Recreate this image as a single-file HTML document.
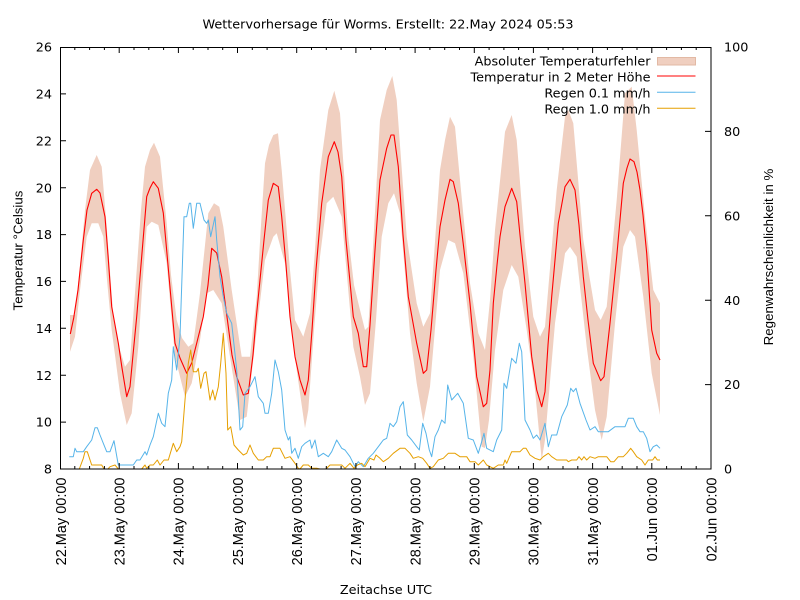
<!DOCTYPE html>
<html>
<head>
<meta charset="utf-8">
<style>
html,body{margin:0;padding:0;background:#fff;}
svg{display:block;}
.dv{font-family:"DejaVu Sans","Liberation Sans",sans-serif;font-size:12.8px;fill:#000;}
.lb{font-family:"Liberation Sans","DejaVu Sans",sans-serif;font-size:14.5px;fill:#000;}
.lt{font-family:"Liberation Sans","DejaVu Sans",sans-serif;font-size:13.3px;fill:#000;}
</style>
</head>
<body>
<svg width="800" height="600" viewBox="0 0 800 600" xmlns="http://www.w3.org/2000/svg">
<rect x="0" y="0" width="800" height="600" fill="#fff"/>
<defs>
<clipPath id="pc"><rect x="60" y="47" width="651" height="422"/></clipPath>
</defs>

<text class="dv" x="388" y="28.5" text-anchor="middle">Wettervorhersage für Worms. Erstellt: 22.May 2024 05:53</text>

<g clip-path="url(#pc)">
<polygon fill="#f0cfc0" stroke="none" points="70,315 75,315 80,265 85,210 90,170 96.7,155 101.7,166.7 106.7,226.7 113.3,316.7 120,350 125,366.7 130,360 136.7,270 141,210 145,166.7 150,150 154,142.7 160,156.7 166.7,223.3 171,275 176.7,320 182,338 188.3,346.7 193.3,343.3 200,293.3 208.3,213.3 214,203.3 219.3,206.7 223.3,226.7 231.7,290 241.7,356.7 250,356.7 256.7,296.7 261,225 265,163.3 269,145 273.3,135 278,133.3 281.7,170 290,270 295,320 303.3,336.7 310,313.3 315,250 320,170 328.3,110 334.3,90.7 340,113.3 348.3,236.7 354,285 360,310 365,330 368.3,326.7 374,230 380,120 386.7,90 392.3,76 396.7,100 406.7,236.7 416.7,303.3 423.3,326.7 430,313.3 440,170 445,140 450,116.7 455,126.7 460,180 470,283.3 478.3,333.3 485,350 490,300 495,230 505,131.7 511.7,115 516.7,140 525,246.7 533.3,316.7 540,336.7 545,326.7 556.7,190 565,116.7 568.3,110 573.3,123.3 583.3,240 595,310 600.7,320 606.7,306.7 616.7,200 625,93.3 631.7,86.7 636.7,130 645,216.7 653.3,290 660,303.3 660,415 651.7,373.3 643.3,296.7 635,236.7 630,230 623.3,246.7 615,323.3 606.7,416.7 601.7,440 595,410 586.7,346.7 576.7,256.7 570,246.7 565,253.3 555,323.3 545,440 541.7,460 535,390 526.7,330 518.3,276.7 511.7,265 503.3,290 495,350 489,420 485,448 481.7,446.7 473.3,356.7 463.3,273.3 455,243.3 448.3,240 440,270 430,386.7 423.3,421.7 416.7,383.3 410,333.3 400,213.3 394,193.3 388.3,203.3 381.7,236.7 376,320 370,393.3 365,405 360,376.7 353.3,346.7 341.7,216.7 333.3,196.7 326.7,203.3 320,256.7 314,330 308.3,410 305,428.3 296.7,370 291.7,330 285,263.3 276.7,233.3 273.3,236.7 265,260 256.7,330 246.7,416.7 240,420 230,356.7 221.7,303.3 213.3,290 206.7,293.3 200,340 191.7,383.3 185,396.7 175,356.7 166.7,263.3 158.3,225 151.7,221.7 146.7,226.7 142,290 138.3,346.7 131.7,413.3 126.7,425 120,393.3 111.7,330 107,280 103.3,236.7 98.3,223.3 91.7,223.3 86.7,236.7 80,290 75,336.7 70,351.7"/>

<polyline fill="none" stroke="#ff0000" stroke-width="1.1" stroke-linejoin="round" points="70.3,334 73.7,318 78,290 83.3,240 87,210 91.7,193.3 96.7,189.3 100,193 105,216.7 108,255 111.7,306.7 118.3,343 122,368 126.7,396.7 130,386.7 133,355 136.7,316.7 141,265 146.7,196.7 150,188 153.3,181.7 158.3,188.3 163.3,213 168,265 172,310 175,343.3 180,358 186.7,373.3 191.7,363 197,342 203.3,316.7 208,285 211.7,248.3 216.7,253 221.7,276.7 228.3,326.7 232,355 236.7,376.7 243.3,395 248.3,393.3 253,355 256,320 260,280 264,240 268.3,200 273.3,183.3 278.3,186.7 281.7,216.7 286,265 290,316.7 295,356.7 300,380 305,395 308.3,380 312,330 316,270 321.7,203.3 328.3,156.7 334.3,141.7 338,152 341.7,176.7 346,240 353.3,316.7 358.3,333.3 363.3,366.7 366.7,366.7 370,325 375,250 380,180 386.7,148.3 391,135 394,135 398.3,166.7 403,235 408.3,296.7 416.7,343.3 423.3,373.3 426.7,370 431,330 436,270 440,226.7 445,200 450,179.3 453.3,181.7 458.3,203.3 464,250 470,303.3 476.7,376.7 483.3,406.7 486.7,403.3 490,370 493.3,303.3 497,265 500,236.7 505,206.7 511.7,188.3 516.7,201.7 520,235 525,283.3 531.7,356.7 536.7,390 541.7,406.7 545,391.7 548,345 551.7,296.7 558.3,223.3 565,186.7 570,179.3 575,190 579,225 583.3,276.7 588,320 593.3,363.3 600.7,380.7 604,376.7 610,323.3 616.7,256.7 620,220 623.3,183.3 627,168 630,159 634,161.7 637,172 640,190 643,215 646.7,253.3 651.7,330 656.7,353.3 660,360"/>

<polyline fill="none" stroke="#56b4e9" stroke-width="1" stroke-linejoin="round" points="69.3,456.7 73.3,456.7 75,448.3 76.7,451.7 83.3,451.7 86.7,446.7 91.7,440 95,427.7 97.3,427.7 100,435 103.3,443.3 106.7,451.7 110,451.7 114,440.7 118.3,465 120,465 133.3,465 136.7,460 140,460 145,451.7 146.7,455 150,445 153.3,436.7 158.3,413.3 161.7,423.3 165,426.7 168.3,393.3 171.7,380 173.3,346.7 176.7,370 180,336.7 184,216.7 186.7,216.7 189.3,203.3 190.7,203.3 193.3,228.3 196.7,203.3 200,203.3 204,220 206.7,223.3 208.3,220 210.7,236.7 215,216.7 216.7,240 220,276.7 223.3,296.7 226.7,313.3 231.7,323.3 236.7,370 240,430 242.7,426.7 245,393.3 250,386.7 255,376.7 258.3,396.7 263.3,403.3 265,413.3 268.3,413.3 271.7,393.3 275,360 278.3,371.7 281.7,390 285,430 288.3,440 290,436.7 291.7,453.3 295,448.3 298.3,458.3 301.7,446.7 305,443.3 310,440 311.7,448.3 315,440 318.3,456.7 323.3,453.3 328.3,456.7 331.7,451.7 336.7,440 341.7,448.3 345,450 350,456.7 355,466.7 358.3,461.7 363.3,466.7 368.3,458.3 373.3,453.3 378.3,446.7 383.3,440 386.7,438.3 390,423.3 393.3,426.7 396.7,421.7 400,406.7 403.3,401.7 407.3,435 411.7,440 416.7,446.7 419.3,450 422.7,423.3 426,433.3 429.3,450 431.7,456.7 435,436.7 438.3,430 441.7,420 445,423.3 447.7,385 451.7,400 457.7,393.3 463.3,403.3 468.3,438.3 473.3,440 478.3,453.3 481.7,441.7 484,433.3 486.7,448.3 493.3,451.7 496.7,440 501.7,430 504,383.3 506.7,388.3 511.7,358.3 516,363.3 519.3,343.3 521.7,351.7 525,420 530,430 533.3,438.3 536.7,435 540,440 545,423.3 548.3,446.7 551.7,435 556.7,435 561.7,416.7 567.3,405 570.7,388.3 573.3,391.7 576,388.3 580,403.3 586,420 590,430 595,426.7 598.3,431.7 608.3,431.7 615,426.7 620,426.7 625,426.7 628.3,418.3 633.3,418.3 636.7,426.7 640,431.7 643.3,431.7 646.7,438.3 650,451.7 653.3,446.7 656.7,445 660,448.3"/>

<polyline fill="none" stroke="#e69f00" stroke-width="1" stroke-linejoin="round" points="69.3,469 79.3,469 83.3,458.3 85,451.7 87.3,451.7 91.7,465 101.7,465 104,469 108,469 110,466.7 115,465 118.3,469 141.7,469 145,465 146.7,468.3 150,465 153.3,465 157.3,460 160,465 164,460 168.3,460 173.3,443.3 176.7,451.7 180,446.7 181.7,441.7 185,400 188.3,363.3 190.7,350 193.3,371.7 196.7,371.7 198.3,368.3 200.7,388.3 204,373.3 206,371.7 210,400 212.7,390 215,400 218.3,386.7 220.7,363.3 223.3,333.3 226,373.3 227.7,430 230.7,426.7 234,445 238.3,450 243.3,455 246.7,453.3 250,445 253.3,453.3 258.3,460 263.3,460 266.7,456.7 270,456.7 273.3,448.3 280,448.3 285,458.3 290,456.7 295,463.3 298.3,468.3 300,469 303.3,465 308.3,465 311.7,468.3 316.7,468.3 320,469 326,469 330,465 336.7,465 341.7,465 345,468.3 350,463.3 354,468.3 357.3,465 361.7,463.3 365,466.7 370,458.3 374,460 376,455 380,458.3 383.3,461.7 388.3,458.3 393.3,453.3 400,448.3 405,448.3 410,453.3 413.3,458.3 418.3,456.7 422.7,458.3 426.7,463.3 430,468.3 433.3,466.7 438.3,460 443.3,458.3 448.3,453.3 455,453.3 460,456.7 466.7,456.7 470,461.7 475,461.7 478.3,465 483.3,460 486.7,465 493.3,468.3 498.3,465 503.3,465 505,460 506.7,463.3 511.7,451.7 520,451.7 523.3,448.3 526,448.3 530,455 535,458.3 540,460 543.3,456.7 548.3,453.3 551.7,456.7 556.7,460 566.7,460 568.3,461.7 571.7,460 576.7,460 579,456.7 581.7,460 584,456.7 586.7,460 590,456.7 595,458.3 598.3,456.7 606.7,456.7 610.7,461.7 614,461.7 618.3,456.7 623.3,456.7 626.7,453.3 630.7,448.3 633.3,451.7 636.7,456.7 641.7,460 645,465 648.3,460 652.7,460 655,456.7 657.3,460 660,460"/>
</g>

<!-- frame -->
<rect x="60.5" y="47.5" width="650.5" height="421.5" fill="none" stroke="#000" stroke-width="1"/>

<!-- x ticks bottom & top -->
<path stroke="#000" stroke-width="1" fill="none" d="
M60.5 469v-6 M119.2 469v-6 M178.4 469v-6 M237.5 469v-6 M296.7 469v-6 M355.9 469v-6 M415.1 469v-6 M474.3 469v-6 M533.4 469v-6 M592.6 469v-6 M651.8 469v-6
M74.8 469v-3 M89.6 469v-3 M104.4 469v-3 M134 469v-3 M148.8 469v-3 M163.6 469v-3 M193.2 469v-3 M208 469v-3 M222.7 469v-3 M252.3 469v-3 M267.1 469v-3 M281.9 469v-3 M311.5 469v-3 M326.3 469v-3 M341.1 469v-3 M370.7 469v-3 M385.5 469v-3 M400.3 469v-3 M429.9 469v-3 M444.7 469v-3 M459.5 469v-3 M489.1 469v-3 M503.9 469v-3 M518.6 469v-3 M548.2 469v-3 M563 469v-3 M577.8 469v-3 M607.4 469v-3 M622.2 469v-3 M637 469v-3 M666.6 469v-3 M681.4 469v-3 M696.2 469v-3
M119.2 47v6 M178.4 47v6 M237.5 47v6 M296.7 47v6 M355.9 47v6 M415.1 47v6 M474.3 47v6 M533.4 47v6 M592.6 47v6 M651.8 47v6
M74.8 47v3 M89.6 47v3 M104.4 47v3 M134 47v3 M148.8 47v3 M163.6 47v3 M193.2 47v3 M208 47v3 M222.7 47v3 M252.3 47v3 M267.1 47v3 M281.9 47v3 M311.5 47v3 M326.3 47v3 M341.1 47v3 M370.7 47v3 M385.5 47v3 M400.3 47v3 M429.9 47v3 M444.7 47v3 M459.5 47v3 M489.1 47v3 M503.9 47v3 M518.6 47v3 M548.2 47v3 M563 47v3 M577.8 47v3 M607.4 47v3 M622.2 47v3 M637 47v3 M666.6 47v3 M681.4 47v3 M696.2 47v3
"/>

<!-- y ticks left -->
<path stroke="#000" stroke-width="1" fill="none" d="M60 422.1h6 M60 375.2h6 M60 328.3h6 M60 281.4h6 M60 234.6h6 M60 187.7h6 M60 140.8h6 M60 93.9h6"/>
<!-- y2 ticks right -->
<path stroke="#000" stroke-width="1" fill="none" d="M711 384.6h-6 M711 300.2h-6 M711 215.8h-6 M711 131.4h-6"/>

<!-- left tick labels -->
<g class="dv" text-anchor="end">
<text x="52" y="473.6">8</text>
<text x="52" y="426.7">10</text>
<text x="52" y="379.8">12</text>
<text x="52" y="332.9">14</text>
<text x="52" y="286">16</text>
<text x="52" y="239.2">18</text>
<text x="52" y="192.3">20</text>
<text x="52" y="145.4">22</text>
<text x="52" y="98.5">24</text>
<text x="52" y="51.6">26</text>
</g>
<!-- right tick labels -->
<g class="dv" text-anchor="start">
<text x="724" y="473.6">0</text>
<text x="724" y="389.2">20</text>
<text x="724" y="304.8">40</text>
<text x="724" y="220.4">60</text>
<text x="724" y="136">80</text>
<text x="724" y="51.6">100</text>
</g>

<!-- x tick labels -->
<g class="lb" text-anchor="end">
<text transform="translate(66,477.5) rotate(-90)">22.May 00:00</text>
<text transform="translate(124.5,477.5) rotate(-90)">23.May 00:00</text>
<text transform="translate(183.7,477.5) rotate(-90)">24.May 00:00</text>
<text transform="translate(242.8,477.5) rotate(-90)">25.May 00:00</text>
<text transform="translate(302,477.5) rotate(-90)">26.May 00:00</text>
<text transform="translate(361.2,477.5) rotate(-90)">27.May 00:00</text>
<text transform="translate(420.4,477.5) rotate(-90)">28.May 00:00</text>
<text transform="translate(479.6,477.5) rotate(-90)">29.May 00:00</text>
<text transform="translate(538.7,477.5) rotate(-90)">30.May 00:00</text>
<text transform="translate(597.9,477.5) rotate(-90)">31.May 00:00</text>
<text transform="translate(657.1,477.5) rotate(-90)">01.Jun 00:00</text>
<text transform="translate(716.3,477.5) rotate(-90)">02.Jun 00:00</text>
</g>

<!-- axis titles -->
<text class="lt" text-anchor="middle" transform="translate(22.5,250.5) rotate(-90)">Temperatur °Celsius</text>
<text class="lt" text-anchor="middle" transform="translate(773,257) rotate(-90)">Regenwahrscheinlichkeit in %</text>
<text class="dv" x="386" y="594" text-anchor="middle">Zeitachse UTC</text>

<!-- legend -->
<g class="dv" text-anchor="end">
<text x="650.5" y="65.7">Absoluter Temperaturfehler</text>
<text x="650.5" y="81.7">Temperatur in 2 Meter Höhe</text>
<text x="650.5" y="97.6">Regen 0.1 mm/h</text>
<text x="650.5" y="113.5">Regen 1.0 mm/h</text>
</g>
<rect x="657.5" y="57.5" width="38" height="7.5" fill="#f0cfc0" stroke="#e2b9a4" stroke-width="1"/>
<line x1="657" y1="76" x2="695.5" y2="76" stroke="#ff0000" stroke-width="1.1"/>
<line x1="657" y1="92.3" x2="695.5" y2="92.3" stroke="#56b4e9" stroke-width="1"/>
<line x1="657" y1="108.2" x2="695.5" y2="108.2" stroke="#e69f00" stroke-width="1"/>
</svg>
</body>
</html>
